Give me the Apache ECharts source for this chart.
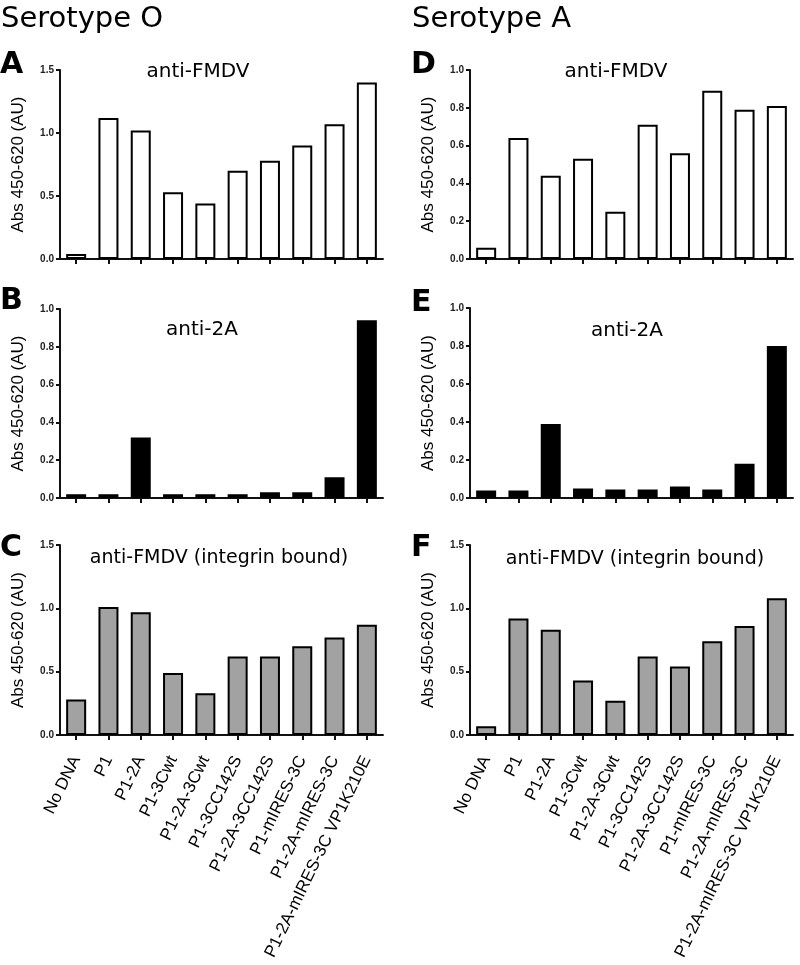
<!DOCTYPE html>
<html>
<head>
<meta charset="utf-8">
<script src="https://cdn.jsdelivr.net/npm/echarts@6/dist/echarts.min.js"></script>
<style>
html,body{margin:0;padding:0;background:#fff;}
#chart{width:800px;height:965px;}
</style>
</head>
<body>
<div id="chart"></div>
<script>
// ---- data ----
const categories = ['No DNA','P1','P1-2A','P1-3Cwt','P1-2A-3Cwt','P1-3CC142S','P1-2A-3CC142S','P1-mIRES-3C','P1-2A-mIRES-3C','P1-2A-mIRES-3C VP1K210E'];
const serotypeO_antiFMDV = [0.04,1.12,1.02,0.53,0.44,0.70,0.78,0.90,1.07,1.40];
const serotypeO_anti2A = [0.02,0.02,0.32,0.02,0.02,0.02,0.03,0.03,0.11,0.94];
const serotypeO_integrin = [0.28,1.01,0.97,0.49,0.33,0.62,0.62,0.70,0.77,0.87];
const serotypeA_antiFMDV = [0.06,0.64,0.44,0.53,0.25,0.71,0.56,0.89,0.79,0.81];
const serotypeA_anti2A = [0.04,0.04,0.39,0.05,0.045,0.045,0.06,0.045,0.18,0.80];
const serotypeA_integrin = [0.07,0.92,0.83,0.43,0.27,0.62,0.54,0.74,0.86,1.08];
const yAxisTitle = 'Abs 450-620 (AU)';
const panelTitles = ['anti-FMDV','anti-2A','anti-FMDV (integrin bound)'];
const panelLetters = ['A','B','C','D','E','F'];
const columnTitles = ['Serotype O','Serotype A'];
// y-axis scales per panel: [max, interval]
const yScaleA = [1.5, 0.5], yScaleB = [1.0, 0.2], yScaleC = [1.5, 0.5];
const yScaleD = [1.0, 0.2], yScaleE = [1.0, 0.2], yScaleF = [1.5, 0.5];

// ---- layout ----
const panels = [
  {data: serotypeO_antiFMDV, scale: yScaleA, left: 60, top: 70, height: 189, fill: '#ffffff', labels: false},
  {data: serotypeO_anti2A, scale: yScaleB, left: 60, top: 309, height: 189, fill: '#000000', labels: false},
  {data: serotypeO_integrin, scale: yScaleC, left: 60, top: 545, height: 190, fill: '#a2a2a2', labels: true},
  {data: serotypeA_antiFMDV, scale: yScaleD, left: 470, top: 70, height: 189, fill: '#ffffff', labels: false},
  {data: serotypeA_anti2A, scale: yScaleE, left: 470, top: 308, height: 190, fill: '#000000', labels: false},
  {data: serotypeA_integrin, scale: yScaleF, left: 470, top: 545, height: 190, fill: '#a2a2a2', labels: true}
];
const PLOT_W = 323;
const AX = '#111';

const grids = [], xAxes = [], yAxes = [], series = [];
panels.forEach((p, i) => {
  grids.push({left: p.left, top: p.top, width: PLOT_W, height: p.height, containLabel: false, outerBoundsMode: 'none'});
  xAxes.push({
    type: 'category', gridIndex: i, data: categories, boundaryGap: true,
    axisLine: {show: true, lineStyle: {color: AX, width: 2}},
    axisTick: {show: true, alignWithLabel: true, length: 5, lineStyle: {color: AX, width: 2}},
    axisLabel: {show: p.labels, interval: 0, rotate: 64, margin: 22,
      fontFamily: 'Liberation Sans, Arial, sans-serif', fontSize: 17, color: '#000'},
    splitLine: {show: false}
  });
  yAxes.push({
    type: 'value', gridIndex: i, min: 0, max: p.scale[0], interval: p.scale[1],
    name: yAxisTitle, nameLocation: 'middle', nameGap: 33,
    nameTextStyle: {fontFamily: 'Liberation Sans, Arial, sans-serif', fontSize: 17, color: '#000'},
    axisLine: {show: true, lineStyle: {color: AX, width: 2}},
    axisTick: {show: true, length: 4, lineStyle: {color: AX, width: 2}},
    axisLabel: {margin: 6, fontFamily: 'Liberation Sans, Arial, sans-serif', fontSize: 10, fontWeight: 'bold', color: '#222',
      formatter: v => v.toFixed(1)},
    splitLine: {show: false}
  });
  series.push({
    type: 'bar', xAxisIndex: i, yAxisIndex: i, data: p.data, barWidth: 20,
    itemStyle: {color: p.fill, borderColor: '#000', borderWidth: 2},
    emphasis: {disabled: true}, animation: false
  });
});

const textEl = (x, y, text, font, align) => ({
  type: 'text', x: x, y: y, silent: true,
  style: {text: text, font: font, fill: '#000', textAlign: align || 'center', textVerticalAlign: 'middle'}
});
const graphics = [
  textEl(1, 19, columnTitles[0], '29px "DejaVu Sans", sans-serif', 'left'),
  textEl(412, 19, columnTitles[1], '29px "DejaVu Sans", sans-serif', 'left'),
  textEl(0, 65, panelLetters[0], 'bold 30px "DejaVu Sans", sans-serif', 'left'),
  textEl(0, 301, panelLetters[1], 'bold 30px "DejaVu Sans", sans-serif', 'left'),
  textEl(0, 548, panelLetters[2], 'bold 30px "DejaVu Sans", sans-serif', 'left'),
  textEl(411, 65, panelLetters[3], 'bold 30px "DejaVu Sans", sans-serif', 'left'),
  textEl(411, 303, panelLetters[4], 'bold 30px "DejaVu Sans", sans-serif', 'left'),
  textEl(411, 548, panelLetters[5], 'bold 30px "DejaVu Sans", sans-serif', 'left'),
  textEl(198, 72, panelTitles[0], '20px "DejaVu Sans", sans-serif'),
  textEl(202, 330, panelTitles[1], '20px "DejaVu Sans", sans-serif'),
  textEl(219, 558, panelTitles[2], '19px "DejaVu Sans", sans-serif'),
  textEl(616, 72, panelTitles[0], '20px "DejaVu Sans", sans-serif'),
  textEl(627, 331, panelTitles[1], '20px "DejaVu Sans", sans-serif'),
  textEl(635, 559, panelTitles[2], '19px "DejaVu Sans", sans-serif')
];

const chart = echarts.init(document.getElementById('chart'), null, {renderer: 'canvas'});
chart.setOption({
  backgroundColor: '#ffffff',
  animation: false,
  grid: grids, xAxis: xAxes, yAxis: yAxes, series: series,
  graphic: graphics
});
</script>
</body>
</html>
